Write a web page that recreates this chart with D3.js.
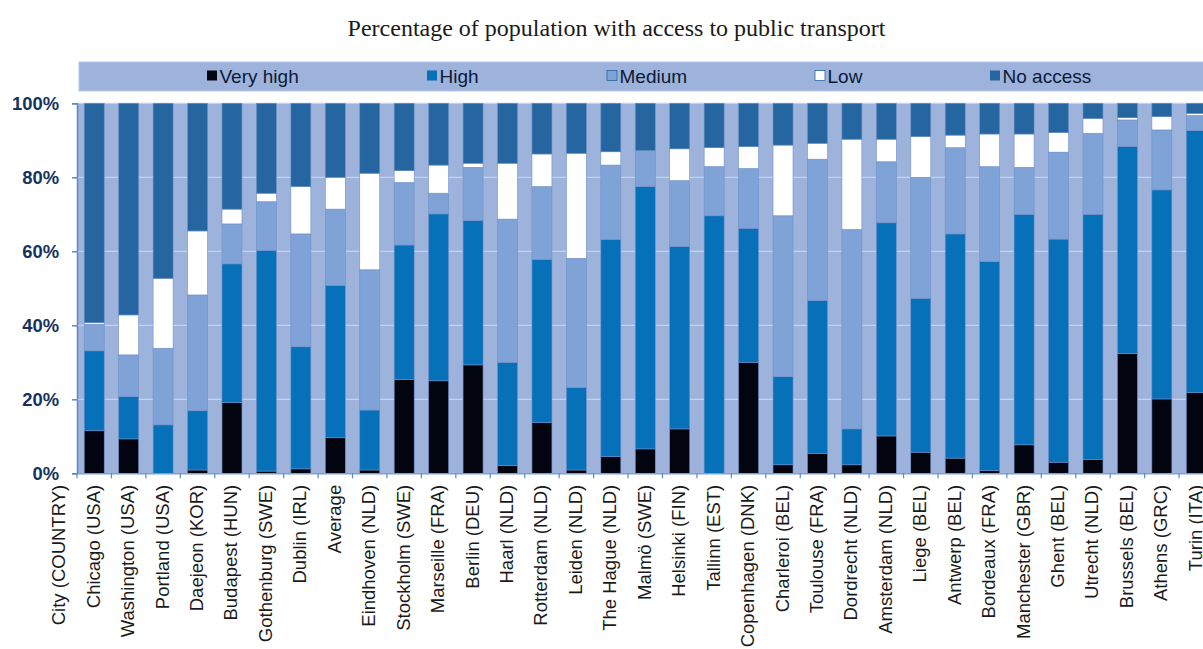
<!DOCTYPE html>
<html>
<head>
<meta charset="utf-8">
<script src="https://cdn.jsdelivr.net/npm/d3@7/dist/d3.min.js"></script>
<style>
  body { margin: 0; background: #fff; overflow: hidden; }
  svg { display: block; }
</style>
</head>
<body>
<script>
// cities in chart order
const cities = ["Chicago (USA)", "Washington (USA)", "Portland (USA)", "Daejeon (KOR)", "Budapest (HUN)",
  "Gothenburg (SWE)", "Dublin (IRL)", "Average", "Eindhoven (NLD)", "Stockholm (SWE)", "Marseille (FRA)",
  "Berlin (DEU)", "Haarl (NLD)", "Rotterdam (NLD)", "Leiden (NLD)", "The Hague (NLD)", "Malmö (SWE)",
  "Helsinki (FIN)", "Tallinn (EST)", "Copenhagen (DNK)", "Charleroi (BEL)", "Toulouse (FRA)",
  "Dordrecht (NLD)", "Amsterdam (NLD)", "Liege (BEL)", "Antwerp (BEL)", "Bordeaux (FRA)",
  "Manchester (GBR)", "Ghent (BEL)", "Utrecht (NLD)", "Brussels (BEL)", "Athens (GRC)", "Turin (ITA)"];

const veryHigh = [11.5, 9.3, 0, 0.9, 19.1, 0.6, 1.2, 9.6, 0.9, 25.4, 25.0, 29.3, 2.1, 13.7, 0.9, 4.5, 6.6,
  12.0, 0, 30.0, 2.3, 5.4, 2.3, 10.1, 5.7, 4.1, 0.7, 7.7, 3.0, 3.8, 32.4, 20.1, 21.8];
const high = [21.6, 11.4, 13.1, 16.0, 37.5, 59.6, 33.0, 41.2, 16.2, 36.3, 45.1, 39.0, 27.9, 44.1, 22.3, 58.7, 70.9,
  49.3, 69.6, 36.2, 23.8, 41.3, 9.7, 57.6, 41.6, 60.6, 56.5, 62.3, 60.3, 66.2, 55.9, 56.5, 70.8];
const medium = [7.2, 11.3, 20.7, 31.3, 10.8, 13.2, 30.5, 20.6, 37.9, 16.9, 5.6, 14.4, 38.7, 19.7, 34.9, 20.1, 9.7,
  17.8, 13.3, 16.2, 43.5, 38.2, 53.9, 16.5, 32.7, 23.3, 25.7, 12.7, 23.5, 21.9, 7.2, 16.2, 4.1];
const low = [0.4, 10.8, 18.9, 17.3, 4.0, 2.3, 12.8, 8.6, 26.1, 3.2, 7.6, 1.1, 15.1, 8.8, 28.4, 3.6, 0,
  8.6, 5.1, 5.9, 19.1, 4.3, 24.4, 6.1, 11.0, 3.4, 8.8, 9.0, 5.3, 4.0, 0.6, 3.6, 0.6];
const noAccess = [59.3, 57.2, 47.3, 34.5, 28.6, 24.3, 22.5, 20.0, 18.9, 18.2, 16.7, 16.2, 16.2, 13.7, 13.5, 13.1, 12.8,
  12.3, 12.0, 11.7, 11.3, 10.8, 9.7, 9.7, 9.0, 8.6, 8.3, 8.3, 7.9, 4.1, 3.9, 3.6, 2.7];

const seriesNames = ["Very high", "High", "Medium", "Low", "No access"];
const seriesColors = ["#02040f", "#0670b8", "#7fa3d6", "#ffffff", "#2566a0"];
const yTicks = [0, 20, 40, 60, 80, 100];
const title = "Percentage of population with access to public transport";

const width = 1203, height = 649;
const svg = d3.select("body").append("svg")
  .attr("width", width)
  .attr("height", height);

const plotLeft = 77, plotTop = 103.3, plotBottom = 473.3;
const step = 34.44;

const x = d3.scaleBand()
  .domain(cities)
  .range([plotLeft, plotLeft + step * cities.length])
  .paddingInner(0.42)
  .paddingOuter(0.21);

const y = d3.scaleLinear()
  .domain([0, 100])
  .range([plotBottom, plotTop]);

// title
svg.append("text")
  .attr("x", 616.5)
  .attr("y", 36)
  .attr("text-anchor", "middle")
  .attr("font-family", "'Liberation Serif', 'Times New Roman', serif")
  .attr("font-size", 24)
  .attr("fill", "#1a1a1a")
  .text(title);

// legend band
svg.append("rect")
  .attr("x", 79).attr("y", 62)
  .attr("width", width).attr("height", 29)
  .attr("fill", "#9db3dc")
  .attr("stroke", "#b8c8e6").attr("stroke-width", 1);

const legendX = [207, 427, 607, 815, 990];
const legend = svg.selectAll(".legend")
  .data(seriesNames)
  .enter()
  .append("g")
  .attr("class", "legend")
  .attr("transform", (d, i) => `translate(${legendX[i]},76)`);
legend.append("rect")
  .attr("x", 0).attr("y", -5.5)
  .attr("width", 10).attr("height", 10)
  .attr("fill", (d, i) => seriesColors[i])
  .attr("stroke", (d, i) => i === 2 || i === 3 ? "#2566a0" : "none")
  .attr("stroke-width", 0.8);
legend.append("text")
  .attr("x", 12.5).attr("y", 7)
  .attr("font-family", "'Liberation Sans', Arial, sans-serif")
  .attr("font-size", 19)
  .attr("fill", "#0b1a36")
  .text(d => d);

// plot background
svg.append("rect")
  .attr("x", plotLeft).attr("y", plotTop)
  .attr("width", width - plotLeft).attr("height", plotBottom - plotTop)
  .attr("fill", "#9db3dc");

// gridlines
svg.selectAll(".grid")
  .data(yTicks.slice(1))
  .enter()
  .append("line")
  .attr("class", "grid")
  .attr("x1", plotLeft).attr("x2", width)
  .attr("y1", d => y(d)).attr("y2", d => y(d))
  .attr("stroke", "#c4d2ec")
  .attr("stroke-width", 1.2);

// stacked bars
const table = cities.map((c, i) => ({
  city: c,
  "Very high": veryHigh[i],
  "High": high[i],
  "Medium": medium[i],
  "Low": low[i],
  "No access": noAccess[i]
}));
const stacked = d3.stack().keys(seriesNames)(table);

svg.selectAll(".series")
  .data(stacked)
  .enter()
  .append("g")
  .attr("class", "series")
  .attr("fill", (d, i) => seriesColors[i])
  .selectAll("rect")
  .data(d => d)
  .enter()
  .append("rect")
  .attr("x", d => x(d.data.city))
  .attr("width", x.bandwidth())
  .attr("y", d => y(d[1]))
  .attr("height", d => Math.max(0, y(d[0]) - y(d[1])))
  .attr("stroke", "#6f90c8")
  .attr("stroke-width", 0.6);

// y axis
const yAxis = d3.axisLeft(y)
  .tickValues(yTicks)
  .tickFormat(d => d + "%")
  .tickSize(5)
  .tickPadding(13);
const yg = svg.append("g")
  .attr("transform", `translate(${plotLeft},0)`)
  .call(yAxis);
yg.select(".domain").attr("stroke", "#5f86c4").attr("stroke-width", 1.5);
yg.selectAll(".tick line").attr("stroke", "#5f86c4").attr("stroke-width", 1.5);
yg.selectAll(".tick text")
  .attr("font-family", "'Liberation Sans', Arial, sans-serif")
  .attr("font-size", 18.4)
  .attr("font-weight", "bold")
  .attr("fill", "#16325e");

// x axis line + tick marks at band boundaries
svg.append("line")
  .attr("x1", plotLeft).attr("x2", width)
  .attr("y1", plotBottom + 0.5).attr("y2", plotBottom + 0.5)
  .attr("stroke", "#7f9fd2").attr("stroke-width", 1.5);
svg.selectAll(".xtick")
  .data(d3.range(cities.length + 1))
  .enter()
  .append("line")
  .attr("class", "xtick")
  .attr("x1", i => plotLeft + i * x.step())
  .attr("x2", i => plotLeft + i * x.step())
  .attr("y1", plotBottom).attr("y2", plotBottom + 5)
  .attr("stroke", "#5f86c4").attr("stroke-width", 1.2);

// x labels
const xLabels = ["City (COUNTRY)"].concat(cities);
svg.selectAll(".xlabel")
  .data(xLabels)
  .enter()
  .append("text")
  .attr("class", "xlabel")
  .attr("transform", (d, i) => {
    const cx = plotLeft + (i - 0.5) * x.step();
    return `translate(${cx + 5.5},${plotBottom + 11.5}) rotate(-90)`;
  })
  .attr("text-anchor", "end")
  .attr("font-family", "'Liberation Sans', Arial, sans-serif")
  .attr("font-size", 18.5)
  .attr("fill", "#1a1a1a")
  .text(d => d);
</script>
</body>
</html>
